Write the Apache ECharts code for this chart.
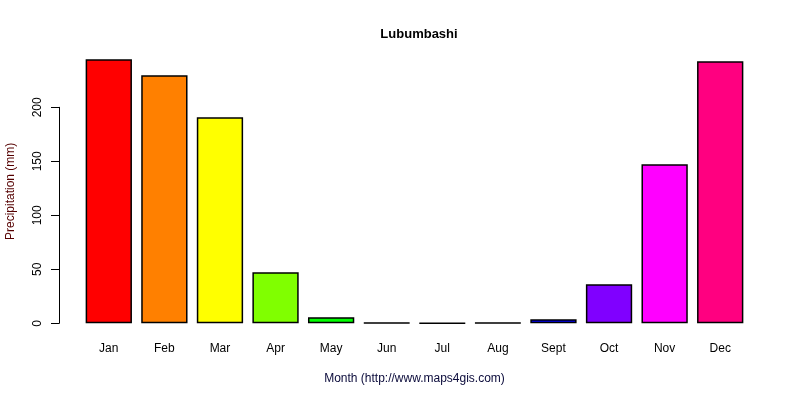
<!DOCTYPE html>
<html>
<head>
<meta charset="utf-8">
<script src="https://cdn.jsdelivr.net/npm/echarts@6/dist/echarts.min.js"></script>
<style>html,body{margin:0;padding:0;background:#fff}#c{width:800px;height:400px}</style>
</head>
<body>
<div id="c"></div>
<script>
const months = ['Jan','Feb','Mar','Apr','May','Jun','Jul','Aug','Sept','Oct','Nov','Dec'];
const precipitation = [244.4, 229.8, 190.7, 47.2, 5.6, 0.4, 0.3, 0.4, 3.7, 36.1, 147.2, 242.6];
const barColors = ['#FF0000','#FF8000','#FFFF00','#80FF00','#00FF00','#00FF80','#00FFFF','#0080FF','#0000FF','#8000FF','#FF00FF','#FF0080'];
const yTicks = [0, 50, 100, 150, 200];

const FONT = '"Liberation Sans", Arial, sans-serif';
const chart = echarts.init(document.getElementById('c'), null, {renderer: 'canvas'});
const yMaxData = Math.max(...precipitation);
const pad = yMaxData * 0.04;

chart.setOption({
  animation: false,
  backgroundColor: '#ffffff',
  title: {
    text: 'Lubumbashi',
    left: 414, top: 23, textAlign: 'center',
    textStyle: {fontFamily: FONT, fontSize: 13, fontWeight: 'bold', color: '#000'}
  },
  grid: [
    {left: 81, right: 52, top: 48.8, bottom: 66.1, containLabel: false, outerBoundsMode: 'none'},
    {left: 81, right: 52, top: 107.3, bottom: 76.7, containLabel: false, outerBoundsMode: 'none'}
  ],
  xAxis: [
    {
      type: 'category', gridIndex: 0, data: months,
      axisLine: {show: false}, axisTick: {show: false},
      axisLabel: {fontFamily: FONT, fontSize: 12, color: '#000', margin: 9},
      name: 'Month (http://www.maps4gis.com)',
      nameLocation: 'middle', nameGap: 39,
      nameTextStyle: {fontFamily: FONT, fontSize: 12, color: '#0a0a3a'}
    },
    {type: 'category', gridIndex: 1, data: months, show: false}
  ],
  yAxis: [
    {
      type: 'value', gridIndex: 0, min: -pad, max: yMaxData + pad,
      offset: 22,
      splitLine: {show: false}, axisLine: {show: false}, axisTick: {show: false}, axisLabel: {show: false},
      name: 'Precipitation (mm)', nameLocation: 'middle', nameGap: 42,
      nameTextStyle: {fontFamily: FONT, fontSize: 12, color: '#550000'}
    },
    {
      type: 'value', gridIndex: 1, min: yTicks[0], max: yTicks[yTicks.length - 1], interval: 50,
      offset: 22,
      splitLine: {show: false},
      axisLine: {show: true, lineStyle: {color: '#000', width: 1}},
      axisTick: {show: true, length: 8, lineStyle: {color: '#000'}},
      axisLabel: {fontFamily: FONT, fontSize: 12, color: '#000', rotate: 90, margin: 15}
    }
  ],
  series: [{
    type: 'bar', xAxisIndex: 0, yAxisIndex: 0,
    data: precipitation.map((v, i) => ({value: v, itemStyle: {color: barColors[i]}})),
    barWidth: '83.3%',
    itemStyle: {borderColor: '#000', borderWidth: 1.5}
  }]
});
</script>
</body>
</html>
